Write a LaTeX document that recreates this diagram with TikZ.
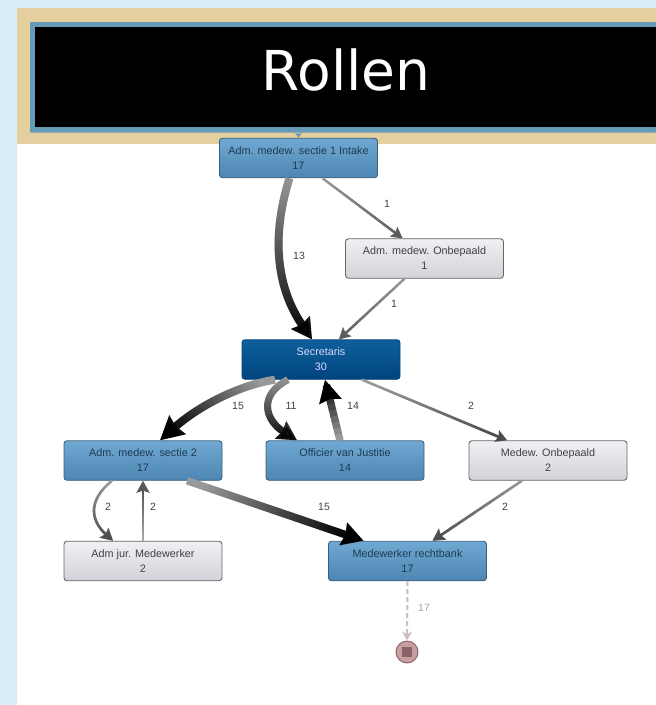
\documentclass[tikz,border=0pt]{standalone}
\usepackage{xcolor}
\usepackage{fontspec}
\setmainfont{Liberation Sans}
\newfontfamily\titlefont{DejaVu Sans}
\usepackage{tikz}
\usetikzlibrary{arrows.meta,fadings,calc}

\definecolor{pagebg}{HTML}{D9EEF9}
\definecolor{bannertan}{HTML}{E4CF9E}
\definecolor{framebl}{HTML}{669AB8}
\definecolor{maintop}{HTML}{6FA8D2}
\definecolor{mainbot}{HTML}{4E86B3}
\definecolor{mainline}{HTML}{3A5F7A}
\definecolor{maintext}{HTML}{1E3A52}
\definecolor{hubtop}{HTML}{0E5F9C}
\definecolor{hubbot}{HTML}{00457D}
\definecolor{greytop}{HTML}{F1EFF3}
\definecolor{greybot}{HTML}{D4D2D8}
\definecolor{stopfill}{HTML}{C6A0A0}
\definecolor{stopline}{HTML}{8A6464}
\definecolor{stopmid}{HTML}{8C6468}
\definecolor{dashflow}{HTML}{CDBFBF}
\tikzfading[name=fadeflow, top color=transparent!100, bottom color=transparent!0]

\tikzset{
  rolebox/.style={rectangle, rounded corners=3pt, minimum width=158pt, minimum height=39.5pt,
    inner sep=0pt, align=center, line width=0.9pt, font=\fontsize{10.8}{15}\selectfont,
    execute at begin node={\rule{0pt}{13pt}}},
  rolemain/.style={rolebox, draw=mainline, top color=maintop, bottom color=mainbot, text=maintext},
  rolegrey/.style={rolebox, draw=black!60, top color=greytop, bottom color=greybot, text=black!75},
  rolehub/.style={rolebox, draw=hubbot, top color=hubtop, bottom color=hubbot, text=white!85!blue},
  flowlabel/.style={font=\fontsize{10.5}{12}\selectfont, text=black!75},
  flowangle/.store in=\flowangle, flowangle=0,
  flowdark/.store in=\flowdark, flowdark=black,
  flow/.style n args={3}{line width=#1, draw=black!40, -{Stealth[length=#2, width=#3, inset=2pt]},
    postaction={draw=\flowdark, path fading=fadeflow, fading angle=\flowangle}},
}

\begin{document}
\begin{tikzpicture}[x=1pt,y=-1pt]
\fill[pagebg] (0,0) rectangle (656,705);
\fill[white] (17,144) rectangle (656,705);
\fill[bannertan] (17,8) rectangle (656,144);
\fill[framebl, rounded corners=1pt] (30,22) rectangle (656,132.5);
\fill[black] (35,27) rectangle (656,127);
\node (title) at (346,70) [text=white, font=\titlefont\fontsize{55}{60}\selectfont] {Rollen};

% roles
\node (intake) at (298.5,158) [rolemain] {Adm. medew. sectie 1 Intake\\17};
\node (onbep) at (424.5,258.5) [rolegrey] {Adm. medew. Onbepaald\\1};
\node (secr) at (321,359.5) [rolehub] {Secretaris\\30};
\node (sectie) at (143,460.5) [rolemain] {Adm. medew. sectie 2\\17};
\node (officier) at (345,460.5) [rolemain] {Officier van Justitie\\14};
\node (medew) at (548,460.5) [rolegrey] {Medew. Onbepaald\\2};
\node (jur) at (143,561) [rolegrey] {Adm jur. Medewerker\\2};
\node (rechtbank) at (407.5,561) [rolemain] {Medewerker rechtbank\\17};
\node (stop) at (407,652) [circle, draw=stopline, fill=stopfill, line width=0.9pt, minimum size=22pt, inner sep=0pt] {};
\node (stopmark) at (stop.center) [rectangle, fill=stopmid, minimum size=10pt, inner sep=0pt] {};
\coordinate (start) at (298.5,132.5);

% edges
\draw[framebl, -{Stealth[length=5pt, width=7pt]}, line width=1pt] (start) -- (intake.north);
\draw[flow={8pt}{20pt}{22pt}] ([xshift=-9pt]intake.south) .. controls (270,240) and (278,290) .. ([xshift=-9pt]secr.north);
\draw[flow={2.4pt}{11pt}{12pt}, flowdark=black!65] ([xshift=24pt]intake.south) -- ([xshift=-22pt]onbep.north);
\draw[flow={2.4pt}{11pt}{12pt}, flowdark=black!65] ([xshift=-20pt]onbep.south) -- ([xshift=18pt]secr.north);
\draw[flow={8pt}{23pt}{24pt}, flowangle=-60] ([xshift=-46pt]secr.south) .. controls (240,385) and (200,405) .. ([xshift=17pt]sectie.north);
\draw[flow={7pt}{19pt}{20pt}] ([xshift=-33pt]secr.south) .. controls (258,395) and (265,420) .. ([xshift=-48pt]officier.north);
% going up: stepped shades
\coordinate (offbase) at ([xshift=-5pt]officier.north);
\coordinate (offtip) at ([xshift=4pt]secr.south);
\foreach \s [evaluate=\s as \c using int(40+\s*6.6)] in {0,...,8}
  \draw[line width=7.5pt, draw=black!\c] ($(offbase)!\s/10!(offtip)$) -- ($(offbase)!\s/10+0.11!(offtip)$);
\draw[line width=7.5pt, black, -{Stealth[length=22pt, width=22pt, inset=2pt]}] ($(offbase)!0.9!(offtip)$) -- (offtip);
\foreach \s [evaluate=\s as \c using int(35+\s*4)] in {0,...,8}
  \draw[line width=2.6pt, draw=black!\c] ($(jur.north)!\s/10!(sectie.south)$) -- ($(jur.north)!\s/10+0.11!(sectie.south)$);
\draw[line width=2.6pt, draw=black!65, -{Stealth[length=12pt, width=13pt, inset=2pt]}] ($(jur.north)!0.9!(sectie.south)$) -- (sectie.south);
\draw[flow={2.6pt}{11pt}{12pt}, flowangle=70, flowdark=black!70] ([xshift=41pt]secr.south) -- ([xshift=-41pt]medew.north);
\draw[flow={2.6pt}{12pt}{13pt}, flowdark=black!70] ([xshift=-26pt]medew.south) -- ([xshift=25pt]rechtbank.north);
\draw[flow={7.5pt}{21pt}{23pt}, flowangle=70] ([xshift=44pt]sectie.south) -- ([xshift=-44pt]rechtbank.north);
\draw[flow={2.6pt}{12pt}{13pt}, flowdark=black!70] ([xshift=-31pt]sectie.south) .. controls (88,500) and (90,520) .. ([xshift=-30pt]jur.north);
\draw[draw=dashflow, line width=2pt, dash pattern=on 5pt off 3pt, -{Stealth[length=9pt, width=10pt]}] (rechtbank.south) -- (stop.north);

% edge counts
\node (lbla) at (387,204) [flowlabel] {1};
\node (lblb) at (299,255.5) [flowlabel] {13};
\node (lblc) at (394,304) [flowlabel] {1};
\node (lbld) at (238,406) [flowlabel] {15};
\node (lble) at (291,406) [flowlabel] {11};
\node (lblf) at (353,406) [flowlabel] {14};
\node (lblg) at (471,406) [flowlabel] {2};
\node (lblh) at (108,506.5) [flowlabel] {2};
\node (lbli) at (153,506.5) [flowlabel] {2};
\node (lblj) at (324,506.5) [flowlabel] {15};
\node (lblk) at (505,506.5) [flowlabel] {2};
\node (lbll) at (424,608) [flowlabel, text=black!35] {17};
\end{tikzpicture}
\end{document}
